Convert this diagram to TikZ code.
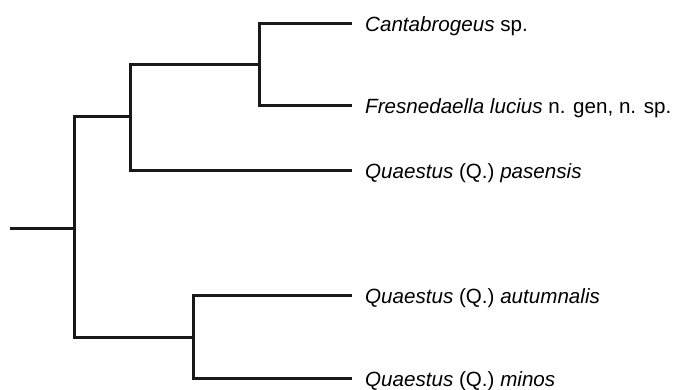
\documentclass[tikz,border=0pt]{standalone}
\usepackage{fontspec}
\setmainfont{Liberation Sans}
\begin{document}
\begin{tikzpicture}[x=1pt,y=-1pt,
  branch/.style={line width=3pt,draw=black!90,line join=miter},
  taxon/.style={anchor=base west,inner sep=0pt,font=\fontsize{20.6}{24}\selectfont}]
\useasboundingbox (0,0) rectangle (673,390);
% internal nodes of the tree
\coordinate (root) at (10,229);
\coordinate (n1) at (74,229);
\coordinate (n2) at (130,117);
\coordinate (n3) at (259,65);
\coordinate (n4) at (193,338);
% tips of the terminal branches
\coordinate (c1) at (352,24);
\coordinate (c2) at (352,106);
\coordinate (c3) at (352,171);
\coordinate (c4) at (352,296);
\coordinate (c5) at (352,379);
% taxon names
\node[taxon] (t1) at (365,31.4) {\textit{Cantabrogeus} sp.};
\node[taxon] (t2) at (365,113.4) {\textit{Fresnedaella lucius} n. gen, n. sp.};
\node[taxon] (t3) at (365,178.4) {\textit{Quaestus} (Q.) \textit{pasensis}};
\node[taxon] (t4) at (365,303.4) {\textit{Quaestus} (Q.) \textit{autumnalis}};
\node[taxon] (t5) at (365,386.4) {\textit{Quaestus} (Q.) \textit{minos}};
% branches
\draw[branch] (c1) -| (n3) |- (c2);
\draw[branch] (n3) -| (n2) |- (c3);
\draw[branch] (n2) -| (n1) |- (n4);
\draw[branch] (c4) -| (n4) |- (c5);
\draw[branch] (root) -- (n1);
\end{tikzpicture}
\end{document}
